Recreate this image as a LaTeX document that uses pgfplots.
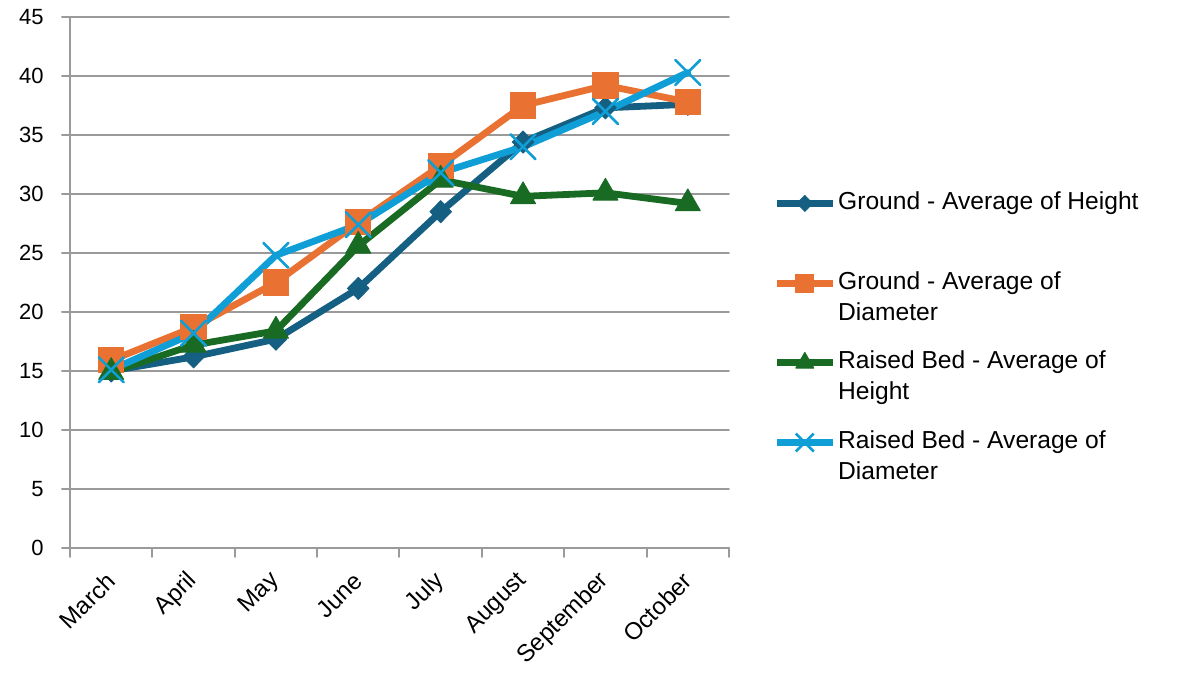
\documentclass[border=0pt]{standalone}
\usepackage{pgfplots}
\pgfplotsset{compat=1.18}
\usepackage{fontspec}
\setmainfont{Liberation Sans}
\definecolor{cA}{HTML}{156082}
\definecolor{cB}{HTML}{E97132}
\definecolor{cC}{HTML}{196B24}
\definecolor{cD}{HTML}{0F9ED5}
\definecolor{gridc}{HTML}{9A9A9A}
\begin{document}
\begin{tikzpicture}
\useasboundingbox (-35pt,-62.5pt) rectangle (554pt,274pt);
\begin{axis}[
  scale only axis, width=329.5pt, height=265.5pt,
  xmin=-0.5, xmax=7.5, ymin=0, ymax=45,
  ytick={0,5,...,45},
  xtick={0,...,7},
  xticklabels={March,April,May,June,July,August,September,October},
  minor xtick={-0.5,0.5,...,7.5},
  major x tick style={draw=none},
  axis x line*=bottom, axis y line*=left,
  axis line style={gridc, line width=1pt, -},
  tick style={gridc, line width=1pt},
  tick align=outside,
  major tick length=4pt, minor tick length=4.5pt,
  ymajorgrids, grid style={gridc, line width=1pt},
  /pgf/number format/assume math mode=true,
  yticklabel style={font=\fontsize{11pt}{13pt}\selectfont, black, inner sep=0pt, xshift=-9pt},
  xticklabel style={font=\fontsize{12pt}{14pt}\selectfont, black, xshift=0pt, yshift=-10.5pt, rotate=45, anchor=east, inner sep=0pt},
  line join=round, line cap=round,
  every axis plot/.append style={line width=3.4pt},
  legend image code/.code={\draw[#1, yshift=3pt, mark repeat=2, mark phase=2, every mark/.append style={scale=0.72}] plot coordinates {(0pt,0pt) (14pt,0pt) (28pt,0pt)};},
  legend style={draw=none, fill=none, inner sep=0pt, at={(axis description cs:1.0668,0.683)}, anchor=north west,
    font=\fontsize{12.3pt}{15.5pt}\selectfont, row sep=25.5pt, column sep=0pt,
    nodes={inner sep=1pt}, cells={anchor=base west}},
]
\addplot[cA, mark=diamond*, mark size=5.5pt, mark options={solid, fill=cA, draw=cA, line width=0.5pt, xscale=1.3}]
  coordinates {(0,15.0) (1,16.2) (2,17.7) (3,22.0) (4,28.5) (5,34.4) (6,37.3) (7,37.6)};
\addlegendentry{\parbox[t]{170pt}{\strut Ground - Average of Height\\\strut}}
\addplot[cB, mark=square*, mark size=6.3pt, mark options={solid, fill=cB, draw=cB, line width=0.5pt}]
  coordinates {(0,15.9) (1,18.7) (2,22.5) (3,27.6) (4,32.4) (5,37.5) (6,39.2) (7,37.8)};
\addlegendentry{\parbox[t]{170pt}{\strut Ground - Average of\\Diameter\strut}}
\addplot[cC, mark=triangle*, mark size=7.2pt, mark options={solid, fill=cC, draw=cC, line width=0.5pt}]
  coordinates {(0,14.9) (1,17.2) (2,18.4) (3,25.6) (4,31.2) (5,29.8) (6,30.1) (7,29.2)};
\addlegendentry{\parbox[t]{170pt}{\strut Raised Bed - Average of\\Height\strut}}
\addplot[cD, mark=x, mark size=8.8pt, mark options={solid, draw=cD, line width=1.3pt}]
  coordinates {(0,15.1) (1,18.2) (2,24.8) (3,27.4) (4,31.8) (5,34.0) (6,37.0) (7,40.3)};
\addlegendentry{\parbox[t]{170pt}{\strut Raised Bed - Average of\\Diameter\strut}}
\end{axis}
\end{tikzpicture}
\end{document}
